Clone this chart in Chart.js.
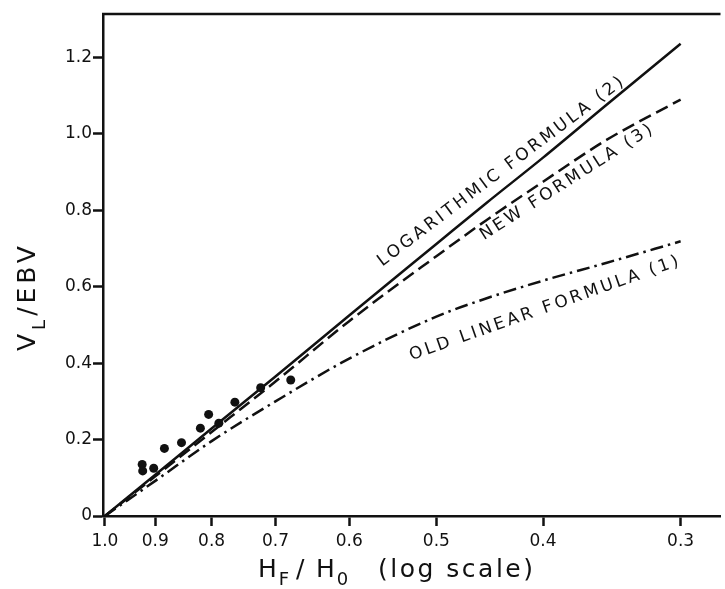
<!DOCTYPE html>
<html>
<head>
<meta charset="utf-8">
<script src="https://cdn.jsdelivr.net/npm/chart.js@4"></script>
<style>
  html, body { margin: 0; padding: 0; background: #fff; }
  #chart { display: block; }
</style>
</head>
<body>
<canvas id="chart" width="725" height="589"></canvas>
<script>
// axis ticks
const xTickValues = [1.0, 0.9, 0.8, 0.7, 0.6, 0.5, 0.4, 0.3];
const yTickValues = [0, 0.2, 0.4, 0.6, 0.8, 1.0, 1.2];

// curves at these H_F/H_0 values
const curveX = [1.0, 0.9, 0.8, 0.7, 0.6, 0.5, 0.45, 0.4, 0.35, 0.3];
const logFormula = [0, 0.108, 0.229, 0.365, 0.525, 0.712, 0.820, 0.938, 1.077, 1.236];
const newFormula = [0, 0.104, 0.220, 0.352, 0.510, 0.680, 0.775, 0.875, 0.985, 1.090];
const oldLinearFormula = [0, 0.092, 0.196, 0.300, 0.412, 0.522, 0.570, 0.616, 0.663, 0.719];

// measured patients
const pointX = [0.925, 0.924, 0.903, 0.883, 0.852, 0.819, 0.805, 0.788, 0.762, 0.722, 0.678];
const pointY = [0.135, 0.118, 0.125, 0.177, 0.192, 0.230, 0.266, 0.243, 0.298, 0.336, 0.356];

// curve labels: text, anchor (x, y in data units), angle in degrees
const curveLabels = ['LOGARITHMIC FORMULA (2)', 'NEW FORMULA (3)', 'OLD LINEAR FORMULA (1)'];
const labelX = [0.436, 0.380, 0.398];
const labelY = [0.903, 0.875, 0.544];
const labelAngle = [-37, -32.5, -19.5];

const INK = '#111';

function toPoints(xs, ys) {
    return xs.map((x, i) => ({ x: x, y: ys[i] }));
}

// draws the top frame line, the rotated curve labels and the axis titles
const annotations = {
    id: 'annotations',
    afterDraw(chart) {
        const ctx = chart.ctx;
        const area = chart.chartArea;
        const xs = chart.scales.x;
        const ys = chart.scales.y;

        ctx.save();
        ctx.strokeStyle = INK;
        ctx.lineWidth = 2.5;
        ctx.beginPath();
        ctx.moveTo(area.left - 1, area.top);
        ctx.lineTo(area.right, area.top);
        ctx.stroke();

        ctx.fillStyle = INK;
        ctx.font = '17px "DejaVu Sans"';
        ctx.letterSpacing = '3px';
        ctx.textAlign = 'center';
        ctx.textBaseline = 'middle';
        curveLabels.forEach((text, i) => {
            ctx.save();
            ctx.translate(xs.getPixelForValue(labelX[i]), ys.getPixelForValue(labelY[i]));
            ctx.rotate(labelAngle[i] * Math.PI / 180);
            ctx.fillText(text, 0, 0);
            ctx.restore();
        });

        // y title: V_L/EBV, rotated
        ctx.textAlign = 'left';
        ctx.textBaseline = 'alphabetic';
        ctx.letterSpacing = '4px';
        ctx.save();
        ctx.translate(35, 351);
        ctx.rotate(-Math.PI / 2);
        let pos = 0;
        ctx.font = '25px "DejaVu Sans"';
        ctx.fillText('V', pos, 0);
        pos += ctx.measureText('V').width;
        ctx.font = '18px "DejaVu Sans"';
        ctx.fillText('L', pos, 10);
        pos += ctx.measureText('L').width;
        ctx.font = '25px "DejaVu Sans"';
        ctx.fillText('/EBV', pos, 0);
        ctx.restore();

        // x title: H_F / H_0 (log scale)
        ctx.letterSpacing = '2px';
        let x = 258;
        const base = 577;
        ctx.font = '25px "DejaVu Sans"';
        ctx.fillText('H', x, base);
        x += ctx.measureText('H').width;
        ctx.font = '18px "DejaVu Sans"';
        ctx.fillText('F', x, base + 8);
        x = 296;
        ctx.font = '25px "DejaVu Sans"';
        ctx.fillText('/', x, base);
        x = 316;
        ctx.fillText('H', x, base);
        x += ctx.measureText('H').width;
        ctx.font = '18px "DejaVu Sans"';
        ctx.fillText('0', x, base + 8);
        ctx.font = '25px "DejaVu Sans"';
        ctx.letterSpacing = '2.5px';
        ctx.fillText('(log scale)', 378, base);
        ctx.restore();
    }
};

new Chart(document.getElementById('chart'), {
    type: 'line',
    data: {
        datasets: [
            {
                label: 'Logarithmic formula (2)',
                data: toPoints(curveX, logFormula),
                borderColor: INK,
                borderWidth: 2.5,
                pointRadius: 0,
                cubicInterpolationMode: 'monotone',
                fill: false
            },
            {
                label: 'New formula (3)',
                data: toPoints(curveX, newFormula),
                borderColor: INK,
                borderWidth: 2.5,
                borderDash: [13, 6],
                pointRadius: 0,
                cubicInterpolationMode: 'monotone',
                fill: false
            },
            {
                label: 'Old linear formula (1)',
                data: toPoints(curveX, oldLinearFormula),
                borderColor: INK,
                borderWidth: 2.5,
                borderDash: [13, 5, 2.5, 5],
                pointRadius: 0,
                cubicInterpolationMode: 'monotone',
                fill: false
            },
            {
                label: 'Patients',
                data: toPoints(pointX, pointY),
                showLine: false,
                pointRadius: 4.5,
                pointBackgroundColor: INK,
                pointBorderColor: INK,
                pointBorderWidth: 0
            }
        ]
    },
    options: {
        responsive: false,
        animation: false,
        devicePixelRatio: 1,
        layout: { padding: { top: 14, right: 0, left: 0, bottom: 0 } },
        plugins: {
            legend: { display: false },
            tooltip: { enabled: false }
        },
        scales: {
            x: {
                type: 'logarithmic',
                reverse: true,
                min: 0.276,
                max: 1.004,
                afterFit: s => { s.height = 73; },
                afterBuildTicks: s => { s.ticks = xTickValues.map(v => ({ value: v })); },
                ticks: {
                    callback: v => Number(v).toFixed(1),
                    font: { family: 'DejaVu Sans', size: 17 },
                    color: INK,
                    padding: 5,
                    maxRotation: 0,
                    autoSkip: false
                },
                grid: {
                    drawOnChartArea: false,
                    drawTicks: true,
                    tickLength: 10,
                    tickWidth: 2.5,
                    tickColor: INK
                },
                border: { display: true, color: INK, width: 2.5 }
            },
            y: {
                min: 0,
                max: 1.314,
                afterFit: s => { s.width = 103; },
                afterBuildTicks: s => { s.ticks = yTickValues.map(v => ({ value: v })); },
                ticks: {
                    callback: v => v === 0 ? '0' : Number(v).toFixed(1),
                    font: { family: 'DejaVu Sans', size: 17 },
                    color: INK,
                    padding: 1
                },
                grid: {
                    drawOnChartArea: false,
                    drawTicks: true,
                    tickLength: 10,
                    tickWidth: 2.5,
                    tickColor: INK
                },
                border: { display: true, color: INK, width: 2.5 }
            }
        }
    },
    plugins: [annotations]
});
</script>
</body>
</html>
